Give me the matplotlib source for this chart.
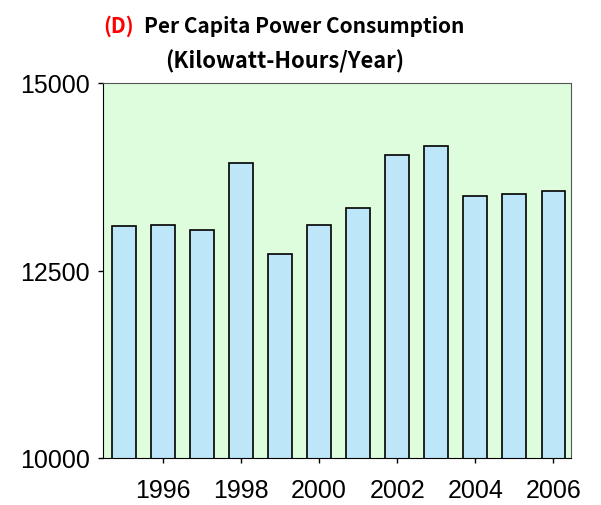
import numpy as np
import matplotlib
matplotlib.use("Agg")
import matplotlib.pyplot as plt

# data
years = [1995, 1996, 1997, 1998, 1999, 2000, 2001, 2002, 2003, 2004, 2005, 2006]
consumption = [13096, 13104, 13046, 13930, 12716, 13113, 13337, 14041, 14161, 13497, 13519, 13555]
tick_years = [1996, 1998, 2000, 2002, 2004, 2006]
y_ticks = [10000, 12500, 15000]

W, H = 601, 506
fig = plt.figure(figsize=(W / 100, H / 100), dpi=100)
ax = fig.add_axes([103 / W, (H - 459) / H, (571 - 103) / W, (459 - 84) / H])
ax.set_facecolor("#ddfddd")

ax.bar(years, consumption, width=0.61, color="#bde6f8", edgecolor="black", linewidth=1.2, zorder=2)

ax.set_xlim(1994.47, 2006.45)
ax.set_ylim(10000, 15000)
ax.set_xticks(tick_years)
ax.set_yticks(y_ticks)
ax.tick_params(direction="out", length=3.5, width=1, labelsize=18)
ax.tick_params(axis="x", pad=11)
ax.tick_params(axis="y", pad=6)
for lab in ax.get_xticklabels() + ax.get_yticklabels():
    lab.set_family("Liberation Sans")

ax.spines["left"].set_color("black")
ax.spines["bottom"].set_color("black")
ax.spines["top"].set_color("#555555")
ax.spines["right"].set_color("#555555")

# 見出し
tfont = dict(family="Noto Sans CJK KR", fontsize=15, fontweight="bold")
fig.text(134 / W, (H - 33) / H, "(D)", color="red", ha="right", va="baseline", **tfont)
fig.text(144 / W, (H - 33) / H, "Per Capita Power Consumption", color="black", ha="left", va="baseline", **tfont)
fig.text(285 / W, (H - 68) / H, "(Kilowatt-Hours/Year)", color="black", ha="center", va="baseline",
         family="Noto Sans CJK KR", fontsize=15.8, fontweight="bold")

fig.savefig("out.png", dpi=100)
